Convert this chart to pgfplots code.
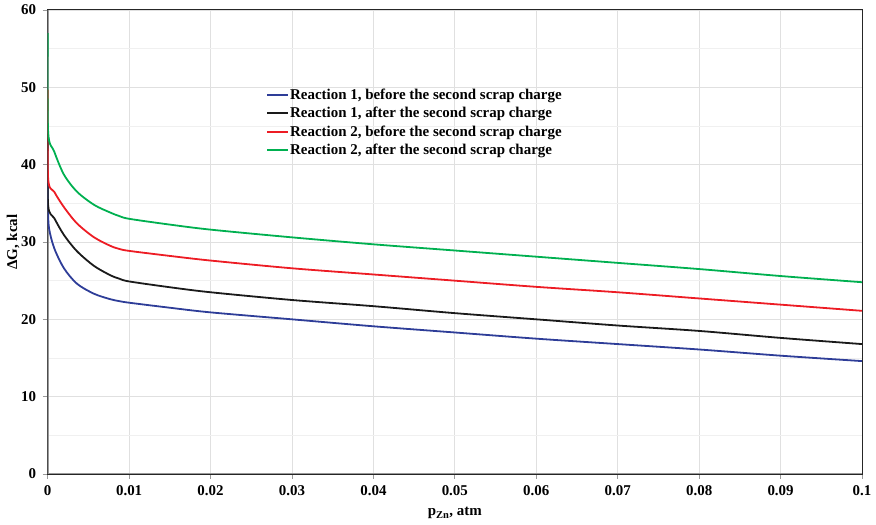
\documentclass[border=0pt]{standalone}
\usepackage{fontspec}
\setmainfont{Liberation Serif}
\usepackage{pgfplots}
\pgfplotsset{compat=1.18}

\definecolor{rblue}{HTML}{2E3D98}
\definecolor{rblack}{HTML}{1A1A1A}
\definecolor{rred}{HTML}{ED1C24}
\definecolor{rgreen}{HTML}{00B050}

\newcommand{\chartfont}{\bfseries\fontsize{15}{17}\selectfont}

\begin{document}
\begin{tikzpicture}
% fix the page to the size of the reference (1bp = 1px)
\useasboundingbox (-47.7bp,-51bp) rectangle (828.3bp,474bp);
\begin{axis}[
    scale only axis,
    width=814.3bp, height=464bp,
    at={(0,0)}, anchor=south west,
    xmin=0, xmax=0.1,
    ymin=0, ymax=60,
    xtick={0,0.01,0.02,0.03,0.04,0.05,0.06,0.07,0.08,0.09,0.1},
    ytick={0,10,20,30,40,50,60},
    minor ytick={5,15,25,35,45,55},
    xtick pos=bottom, ytick pos=left,
    scaled x ticks=false,
    xticklabel style={/pgf/number format/fixed, /pgf/number format/precision=2, yshift=-3bp},
    yticklabel style={xshift=-3bp},
    /pgf/number format/assume math mode=true,
    ticklabel style={font=\chartfont},
    xmajorgrids, ymajorgrids, yminorgrids,
    major grid style={draw=black!12, line width=0.8bp},
    minor grid style={draw=black!6, line width=0.8bp},
    tick align=outside,
    major tick length=5bp, minor tick length=0bp,
    tick style={black!40, line width=0.8bp},
    axis line style={black!85, line width=1bp},
    xlabel={p\textsubscript{Zn}, atm},
    ylabel={ΔG, kcal},
    every axis x label/.style={at={(axis description cs:0.5,-0.0905)}, anchor=base, font=\chartfont},
    every axis y label/.style={at={(axis description cs:-0.0426,0.5)}, anchor=center, rotate=90, font=\chartfont},
    legend style={draw=none, fill=none, at={(rel axis cs:0.268,0.832)}, anchor=north west,
        font=\chartfont, row sep=5.5bp, inner sep=0pt,
        nodes={inner xsep=1bp, inner ysep=0.5bp}},
    legend cell align=left,
    legend image code/.code={\draw[#1, line width=2bp] (0bp,0bp) -- (21bp,0bp);},
    every axis plot/.append style={line width=1.8bp, smooth},
]
% left and bottom axis lines are grey in the reference
\draw[black!40, line width=2bp] (rel axis cs:0,1) -- (rel axis cs:0,0) -- (rel axis cs:1,0);

\addplot[color=rblue] coordinates {
    (0,38.0) (0.00003,34.5) (0.00016,31.8) (0.0008,29.2) (0.002,26.6)
    (0.0036,24.6) (0.0057,23.3) (0.0077,22.6) (0.0088,22.35) (0.01,22.15)
    (0.015,21.5) (0.02,20.9) (0.03,20.0) (0.04,19.1) (0.05,18.3) (0.06,17.5)
    (0.07,16.8) (0.08,16.1) (0.09,15.3) (0.1,14.6)
};
\addlegendentry{Reaction 1, before the second scrap charge}

\addplot[color=rblack] coordinates {
    (0,44.0) (0.00005,34.8) (0.0008,33.1) (0.002,30.9)
    (0.0036,28.8) (0.0057,26.9) (0.0077,25.7) (0.0088,25.25) (0.01,24.9)
    (0.015,24.15) (0.02,23.5) (0.03,22.5) (0.04,21.7) (0.05,20.8) (0.06,20.0)
    (0.07,19.2) (0.08,18.5) (0.09,17.6) (0.1,16.8)
};
\addlegendentry{Reaction 1, after the second scrap charge}

\addplot[color=rred] coordinates {
    (0,49.7) (0.00005,38.3) (0.0008,36.5) (0.002,34.5)
    (0.0036,32.4) (0.0057,30.6) (0.0077,29.5) (0.0088,29.1) (0.01,28.85)
    (0.015,28.2) (0.02,27.6) (0.03,26.6) (0.04,25.8) (0.05,25.0) (0.06,24.2)
    (0.07,23.5) (0.08,22.7) (0.09,21.9) (0.1,21.1)
};
\addlegendentry{Reaction 2, before the second scrap charge}

\addplot[color=rgreen] coordinates {
    (0,57.0) (0.00005,44.3) (0.0008,41.7) (0.002,38.7)
    (0.0036,36.5) (0.0057,34.8) (0.0077,33.8) (0.0088,33.35) (0.01,33.0)
    (0.015,32.25) (0.02,31.6) (0.03,30.6) (0.04,29.7) (0.05,28.9) (0.06,28.1)
    (0.07,27.3) (0.08,26.5) (0.09,25.6) (0.1,24.8)
};
\addlegendentry{Reaction 2, after the second scrap charge}

\end{axis}
\end{tikzpicture}
\end{document}
